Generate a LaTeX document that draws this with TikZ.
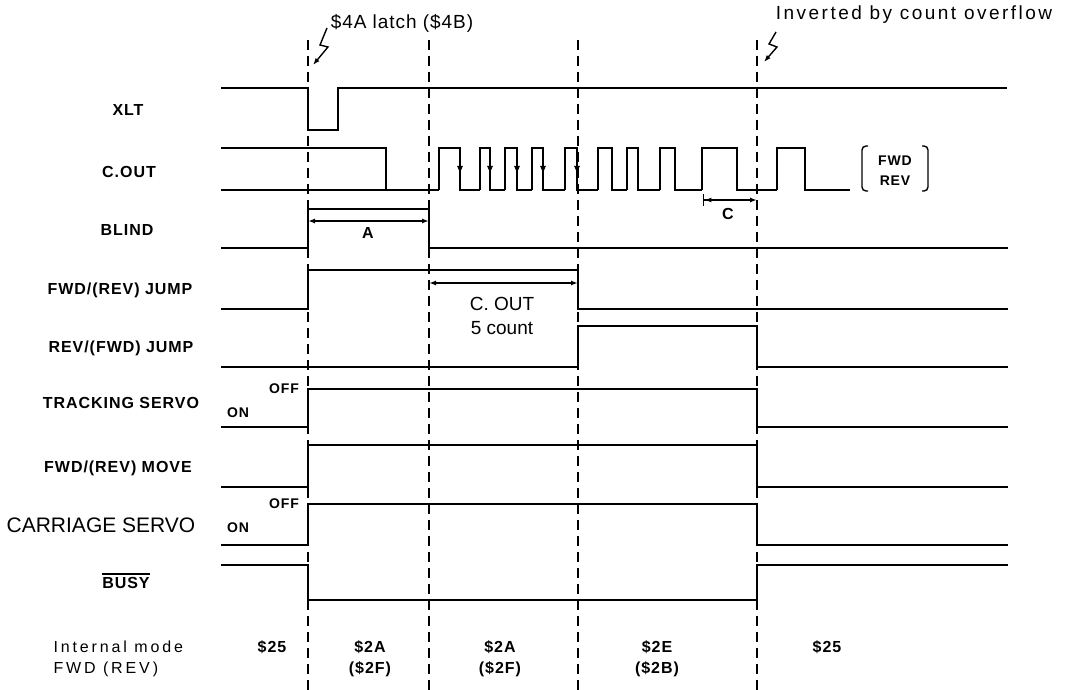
\documentclass[tikz,border=0pt]{standalone}
\usepackage{fontspec}
\setmainfont{Liberation Sans}
\newfontfamily\tagfont[LetterSpace=6]{Liberation Sans}
\newfontfamily\notefont[LetterSpace=18]{Liberation Sans}
\newfontfamily\ovffont[LetterSpace=13]{Liberation Sans}
\newfontfamily\latchfont[LetterSpace=5]{Liberation Sans}
\usetikzlibrary{arrows.meta}

\tikzset{
  sig/.style={line width=2.6pt},
  guide/.style={line width=1.3pt, dash pattern=on 10pt off 6pt},
  tag/.style={font=\tagfont\bfseries\fontsize{16}{18}\selectfont},
  small tag/.style={font=\tagfont\bfseries\fontsize{14}{16}\selectfont},
  note/.style={font=\notefont\fontsize{16}{18}\selectfont},
  dim/.style={line width=1.4pt, {Latex[length=7pt,width=5pt]}-{Latex[length=7pt,width=5pt]}},
  zap/.style={line width=1.4pt, -{Latex[length=7pt,width=5pt]}},
}

\begin{document}
\begin{tikzpicture}[x=1pt, y=-1pt]
    \useasboundingbox (0,0) rectangle (1066,690);

    % Timing marks
    \foreach \x in {308, 429, 578, 757} {
        \draw[guide] (\x,40) -- (\x,690);
    }
    \node[font=\latchfont\fontsize{19}{21}\selectfont] (latch) at (402,23) {\$4A latch (\$4B)};
    \node[font=\ovffont\fontsize{19}{21}\selectfont] (ovf) at (914,15) {Inverted by count overflow};
    \draw[zap] (327,28) -- (320,45) -- (328,47) -- (313,65);
    \draw[zap] (776,32) -- (769,44) -- (777,47) -- (764,62);

    % Signal names
    \node[tag] (xlt) at (128,110) {XLT};
    \node[tag] (cout) at (129,172) {C.OUT};
    \node[tag] (blind) at (127,230) {BLIND};
    \node[tag] (fjump) at (120,290) {FWD/(REV) JUMP};
    \node[tag] (rjump) at (121,348) {REV/(FWD) JUMP};
    \node[tag] (track) at (121,403) {TRACKING SERVO};
    \node[tag] (fmove) at (118,468) {FWD/(REV) MOVE};
    \node[font=\fontsize{21}{24}\selectfont] (carr) at (101,525) {CARRIAGE SERVO};
    \node[tag] (busy) at (126,581) {\setbox0\hbox{BUSY}\vbox{\hrule width\wd0 height 1.2pt\kern2.5pt\box0}};
    \foreach \y/\n in {389/t, 504/c} {
        \node[small tag] (off\n) at (284,\y) {OFF};
        \node[small tag] (on\n) at (238,\y+24) {ON};
    }

    % XLT
    \draw[sig] (221,88) -- (308,88) -- (308,130) -- (338,130) -- (338,88) -- (1007,88);

    % C.OUT
    \draw[sig] (221,148) -- (386,148) -- (386,190);
    \draw[sig] (221,190) -- (439,190);
    \foreach \r/\f/\n in {439/460/480, 480/490/505, 505/517/532, 532/543/565, 565/577/598,
                          598/612/627, 627/638/660, 660/675/702, 702/737/777, 777/805/850} {
        \draw[sig] (\r,190) -- (\r,148) -- (\f,148) -- (\f,190) -- (\n,190);
    }
    \foreach \x in {460, 490, 517, 543, 577} {
        \draw[line width=1pt, -{Latex[length=8pt,width=6pt]}] (\x,150) -- (\x,174);
    }
    \draw[line width=1.4pt, rounded corners=4pt] (868,146) -- (862,146) -- (862,191) -- (868,191);
    \draw[line width=1.4pt, rounded corners=4pt] (922,146) -- (928,146) -- (928,191) -- (922,191);
    \node[small tag] (fwd) at (895,161) {FWD};
    \node[small tag] (rev) at (895,181) {REV};
    \coordinate (c1) at (703,200);
    \coordinate (c2) at (757,200);
    \draw[line width=1.4pt, {Bar[width=12pt]Latex[length=7pt,width=5pt]}-{Latex[length=7pt,width=5pt]}] (c1) -- (c2);
    \node[tag] (cpd) at (728,214) {C};

    % BLIND
    \draw[sig] (221,248) -- (308,248) -- (308,209) -- (429,209) -- (429,248) -- (1008,248);
    \coordinate (a1) at (308,221);
    \coordinate (a2) at (429,221);
    \draw[dim] (a1) -- (a2);
    \node[tag] (apd) at (368,233) {A};

    % Jumps
    \draw[sig] (221,309) -- (308,309) -- (308,270) -- (578,270) -- (578,309) -- (1008,309);
    \draw[sig] (221,367) -- (578,367) -- (578,326) -- (757,326) -- (757,367) -- (1008,367);
    \coordinate (j1) at (429,283);
    \coordinate (j2) at (578,283);
    \draw[dim] (j1) -- (j2);
    \node[font=\fontsize{19}{21}\selectfont] (cnt1) at (502,304) {C. OUT};
    \node[font=\fontsize{19}{21}\selectfont] (cnt2) at (502,328) {5 count};

    % Servos and move
    \foreach \lo/\hi in {427/389, 487/445, 545/504} {
        \draw[sig] (221,\lo) -- (308,\lo) -- (308,\hi) -- (757,\hi) -- (757,\lo) -- (1008,\lo);
    }

    % BUSY
    \draw[sig] (221,565) -- (308,565) -- (308,600) -- (757,600) -- (757,565) -- (1008,565);

    % Internal mode
    \node[note, anchor=west] (imode) at (50,647) {Internal mode};
    \node[note, anchor=west] (idir) at (50,669) {FWD (REV)};
    \foreach \x/\m/\r [count=\i] in {272/\$25/, 370/\$2A/(\$2F), 500/\$2A/(\$2F), 657/\$2E/(\$2B), 827/\$25/} {
        \node[tag] (mode\i) at (\x,647) {\m};
        \node[tag] (alt\i) at (\x,669) {\r};
    }
\end{tikzpicture}
\end{document}
